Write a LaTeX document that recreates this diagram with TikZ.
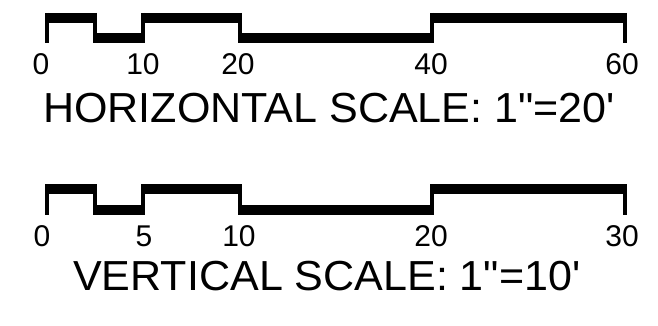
\documentclass[tikz,border=0pt]{standalone}
\usepackage{fontspec}
\setmainfont{Liberation Sans}
\usetikzlibrary{positioning}

\begin{document}
\begin{tikzpicture}[
    x = 1pt, % one pixel of the drawing
    y = -1pt, % y grows downwards
    band/.style = {fill = black, draw = none}, % bar segment
    tick/.style = {line width = 3.5pt}, % division mark
    num/.style = {anchor = base, inner sep = 0pt, font = \fontsize{30}{36}\selectfont},
    caption/.style = {anchor = base west, inner sep = 0pt, xscale = 1.025, font = \fontsize{42}{50}\selectfont},
    ]
    \useasboundingbox (0,0) rectangle (658,326);

    % horizontal scale
    \foreach \a/\b/\t in {47/95/13, 95/143/33.5, 143/240/13, 240/432/33.5, 432/625/13}
        \fill[band] (\a,\t) rectangle (\b,\t+10);
    \foreach \x in {47,95,143,240,432,625}
        \draw[tick] (\x,13) -- (\x,43.5);
    \node[num] (h0) at (41,75) {0};
    \node[num] (h10) at (143,75) {10};
    \node[num] (h20) at (238,75) {20};
    \node[num] (h40) at (431,75) {40};
    \node[num] (h60) at (622,75) {60};
    \node[caption] (htitle) at (43,122) {HORIZONTAL SCALE: 1\textquotedbl=20\textquotesingle};

    % vertical scale
    \foreach \a/\b/\t in {47/95/184, 95/143/204.5, 143/240/184, 240/432/204.5, 432/625/184}
        \fill[band] (\a,\t) rectangle (\b,\t+10);
    \foreach \x in {47,95,143,240,432,625}
        \draw[tick] (\x,184) -- (\x,214.5);
    \node[num] (v0) at (42,246) {0};
    \node[num] (v5) at (144,246) {5};
    \node[num] (v10) at (239,246) {10};
    \node[num] (v20) at (431,246) {20};
    \node[num] (v30) at (622,246) {30};
    \node[caption] (vtitle) at (73,290) {VERTICAL SCALE: 1\textquotedbl=10\textquotesingle};
\end{tikzpicture}
\end{document}
